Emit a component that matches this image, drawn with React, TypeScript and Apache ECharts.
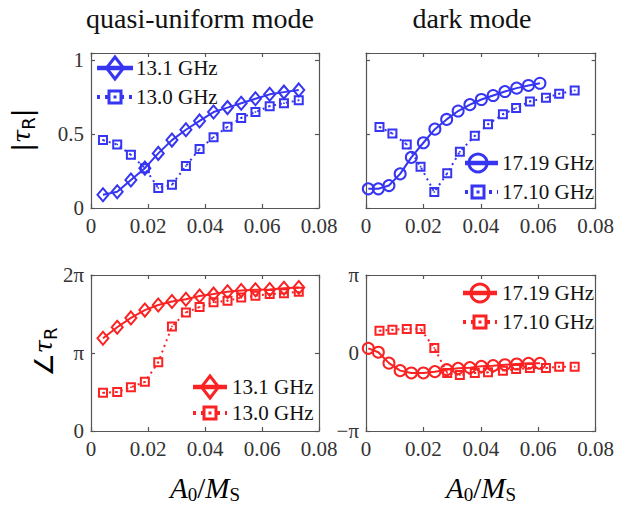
import React, { useEffect, useRef } from 'react';
import * as echarts from 'echarts';

// ---------- data ----------
const xTickLabels = ['0', '0.02', '0.04', '0.06', '0.08'];
const ampTickLabels = ['0', '0.5', '1'];
const phaseQuasiTickLabels = ['0', 'π', '2π'];
const phaseDarkTickLabels = ['−π', '0', 'π'];

// quasi-uniform mode (A0/MS)
const quasiX = [0.0042, 0.0092, 0.014, 0.0189, 0.0236, 0.0284, 0.0333, 0.0381, 0.043, 0.0479, 0.0527, 0.0577, 0.0627, 0.0677, 0.0729];
const amp131 = [0.09, 0.11, 0.19, 0.27, 0.37, 0.46, 0.53, 0.59, 0.65, 0.68, 0.71, 0.74, 0.77, 0.785, 0.8];
const amp130 = [0.46, 0.43, 0.36, 0.27, 0.135, 0.157, 0.285, 0.4, 0.48, 0.55, 0.61, 0.65, 0.69, 0.71, 0.73];
// phase in units of π
const phase131 = [1.19, 1.33, 1.45, 1.55, 1.615, 1.66, 1.69, 1.73, 1.755, 1.785, 1.8, 1.81, 1.815, 1.83, 1.84];
const phase130 = [0.49, 0.5, 0.56, 0.63, 0.88, 1.34, 1.52, 1.59, 1.65, 1.67, 1.71, 1.735, 1.755, 1.765, 1.785];

// dark mode
const darkX1719 = [0.0008, 0.0043, 0.008, 0.0119, 0.0158, 0.02, 0.024, 0.0281, 0.0321, 0.0362, 0.0402, 0.0443, 0.0484, 0.0525, 0.0566, 0.0606];
const amp1719 = [0.13, 0.13, 0.152, 0.231, 0.343, 0.442, 0.534, 0.6, 0.657, 0.7, 0.735, 0.762, 0.789, 0.812, 0.83, 0.845];
const phase1719 = [0.06, 0.01, -0.13, -0.226, -0.256, -0.256, -0.239, -0.214, -0.197, -0.188, -0.171, -0.162, -0.15, -0.141, -0.132, -0.132];
const darkX1710 = [0.0047, 0.0092, 0.0142, 0.019, 0.0238, 0.0283, 0.0327, 0.0379, 0.0425, 0.0477, 0.0523, 0.0571, 0.0627, 0.0673, 0.0727];
const amp1710 = [0.549, 0.504, 0.43, 0.28, 0.108, 0.235, 0.381, 0.489, 0.567, 0.635, 0.677, 0.722, 0.747, 0.774, 0.796];
const phase1710 = [0.286, 0.299, 0.308, 0.308, 0.064, -0.256, -0.282, -0.256, -0.248, -0.226, -0.205, -0.192, -0.192, -0.175, -0.175];

// ---------- styles ----------
const BLUE = '#3535f2';
const RED = '#fa2222';
const AXIS = '#555';
const SERIF = "'Liberation Serif', 'Times New Roman', serif";
const SQUARE_PATH = 'path://M0,0L10,0L10,10L0,10Z M2,2L2,8L8,8L8,2Z M4.2,4.2L5.8,4.2L5.8,5.8L4.2,5.8Z';

const grids = [
  { left: 91, top: 53, width: 228, height: 155 },
  { left: 366, top: 53, width: 231, height: 155 },
  { left: 91, top: 275, width: 228, height: 156 },
  { left: 366, top: 275, width: 230, height: 156 },
];

const yConf = [
  { min: 0, max: 1.05, interval: 0.5, labels: ampTickLabels, base: 0, show: true },
  { min: 0, max: 1.05, interval: 0.5, labels: ampTickLabels, base: 0, show: false },
  { min: 0, max: 2, interval: 1, labels: phaseQuasiTickLabels, base: 0, show: true },
  { min: -1, max: 1, interval: 1, labels: phaseDarkTickLabels, base: -1, show: true },
];

function pick(labels: string[], v: number, base: number, step: number) {
  const k = (v - base) / step;
  const r = Math.round(k);
  if (Math.abs(k - r) > 1e-6 || r < 0 || r >= labels.length) return '';
  return labels[r];
}

function buildOption() {
  const xAxis: any[] = [];
  const yAxis: any[] = [];
  const common = {
    type: 'value',
    splitLine: { show: false },
    axisLine: { show: true, onZero: false, lineStyle: { color: AXIS, width: 1.2 } },
    axisTick: { show: true, inside: true, length: 4, lineStyle: { color: AXIS, width: 1.2 } },
  };
  grids.forEach((_, g) => {
    const lbl = {
      show: true,
      margin: 7,
      fontFamily: SERIF,
      fontSize: 21,
      color: '#333',
      formatter: (v: number) => pick(xTickLabels, v, 0, 0.02),
    };
    xAxis.push({ ...common, gridIndex: g, min: 0, max: 0.08, interval: 0.02, position: 'bottom', axisLabel: lbl });
    xAxis.push({ ...common, gridIndex: g, min: 0, max: 0.08, interval: 0.02, position: 'top', axisLabel: { show: false } });
    const c = yConf[g];
    yAxis.push({
      ...common,
      gridIndex: g,
      min: c.min,
      max: c.max,
      interval: c.interval,
      position: 'left',
      axisLabel: {
        show: c.show,
        margin: 7,
        fontFamily: SERIF,
        fontSize: 21,
        color: '#333',
        formatter: (v: number) => pick(c.labels, v, c.base, c.interval),
      },
    });
    yAxis.push({ ...common, gridIndex: g, min: c.min, max: c.max, interval: c.interval, position: 'right', axisLabel: { show: false } });
  });

  const pairs = (xs: number[], ys: number[]) => xs.map((x, i) => [x, ys[i]]);
  const solid = (g: number, name: string, xs: number[], ys: number[], color: string, symbol: string, size: any) => ({
    type: 'line',
    name,
    xAxisIndex: 2 * g,
    yAxisIndex: 2 * g,
    data: pairs(xs, ys),
    symbol,
    symbolSize: size,
    showAllSymbol: true,
    itemStyle: { color: 'rgba(0,0,0,0)', borderColor: color, borderWidth: 2 },
    lineStyle: { color, width: 2, type: 'solid' },
    z: 3,
  });
  const dotted = (g: number, name: string, xs: number[], ys: number[], color: string) => ({
    type: 'line',
    name,
    xAxisIndex: 2 * g,
    yAxisIndex: 2 * g,
    data: pairs(xs, ys),
    symbol: SQUARE_PATH,
    symbolSize: 10,
    showAllSymbol: true,
    itemStyle: { color, borderWidth: 0 },
    lineStyle: { color, width: 2, type: [2, 4] },
    z: 2,
  });

  const series = [
    dotted(0, '13.0 GHz', quasiX, amp130, BLUE),
    solid(0, '13.1 GHz', quasiX, amp131, BLUE, 'diamond', [11, 13]),
    dotted(1, '17.10 GHz', darkX1710, amp1710, BLUE),
    solid(1, '17.19 GHz', darkX1719, amp1719, BLUE, 'circle', 11),
    dotted(2, '13.0 GHz', quasiX, phase130, RED),
    solid(2, '13.1 GHz', quasiX, phase131, RED, 'diamond', [11, 13]),
    dotted(3, '17.10 GHz', darkX1710, phase1710, RED),
    solid(3, '17.19 GHz', darkX1719, phase1719, RED, 'circle', 11),
  ];

  // ---------- legends (drawn) ----------
  const legend = (color: string, lx0: number, lx1: number, cx: number, tx: number, rows: any[]) => {
    const els: any[] = [];
    rows.forEach((r) => {
      els.push({
        type: 'line',
        shape: { x1: lx0, y1: r.y, x2: lx1, y2: r.y },
        style: r.solid ? { stroke: color, lineWidth: 4.5 } : { stroke: color, lineWidth: 4, lineDash: [3, 5] },
        z: 10,
      });
      if (r.kind === 'diamond') {
        els.push({ type: 'polygon', shape: { points: [[cx, r.y - 11], [cx + 8.5, r.y], [cx, r.y + 11], [cx - 8.5, r.y]] }, style: { fill: 'none', stroke: color, lineWidth: 3 }, z: 11 });
      } else if (r.kind === 'circle') {
        els.push({ type: 'circle', shape: { cx, cy: r.y, r: 9 }, style: { fill: 'none', stroke: color, lineWidth: 3 }, z: 11 });
      } else {
        els.push({ type: 'rect', shape: { x: cx - 6, y: r.y - 6, width: 12, height: 12 }, style: { fill: '#fff', stroke: color, lineWidth: 3 }, z: 11 });
        els.push({ type: 'rect', shape: { x: cx - 1.5, y: r.y - 1.5, width: 3, height: 3 }, style: { fill: color }, z: 12 });
      }
      els.push({
        type: 'text',
        x: tx,
        y: r.y,
        style: { text: r.label, fontFamily: SERIF, fontSize: 21, fill: '#111', align: 'left', verticalAlign: 'middle' },
        z: 11,
      });
    });
    return els;
  };

  const subRich = {
    i: { fontFamily: SERIF, fontStyle: 'italic', fontSize: 29, color: '#111' },
    n: { fontFamily: SERIF, fontSize: 29, color: '#111' },
    s: { fontFamily: SERIF, fontSize: 19, color: '#111', padding: [13, 0, 0, 0] },
  };
  const yRich = {
    b: { fontFamily: "'DejaVu Sans', sans-serif", fontSize: 26, color: '#222' },
    a: { fontFamily: "'DejaVu Sans', sans-serif", fontSize: 26, color: '#222' },
    t: { fontFamily: "'DejaVu Serif', serif", fontStyle: 'italic', fontSize: 24, color: '#222' },
    s: { fontFamily: "'DejaVu Sans', sans-serif", fontSize: 18, color: '#222', padding: [12, 0, 0, 0] },
  };

  const graphic: any[] = [
    { type: 'text', x: 200, y: 18, style: { text: 'quasi-uniform mode', fontFamily: SERIF, fontSize: 28, fill: '#111', align: 'center', verticalAlign: 'middle' } },
    { type: 'text', x: 472, y: 18, style: { text: 'dark mode', fontFamily: SERIF, fontSize: 28, fill: '#111', align: 'center', verticalAlign: 'middle' } },
    { type: 'text', x: 22, y: 130, rotation: Math.PI / 2, style: { text: '{b||}{t|τ}{s|R}{b||}', rich: yRich, align: 'center', verticalAlign: 'middle' } },
    { type: 'text', x: 44, y: 352, rotation: Math.PI / 2, style: { text: '{a|∠}{t|τ}{s|R}', rich: yRich, align: 'center', verticalAlign: 'middle' } },
    { type: 'text', x: 205, y: 488, style: { text: '{i|A}{s|0}{n|/}{i|M}{s|S}', rich: subRich, align: 'center', verticalAlign: 'middle' } },
    { type: 'text', x: 481, y: 488, style: { text: '{i|A}{s|0}{n|/}{i|M}{s|S}', rich: subRich, align: 'center', verticalAlign: 'middle' } },
    ...legend(BLUE, 97, 133, 115, 136, [
      { y: 68, kind: 'diamond', solid: true, label: '13.1 GHz' },
      { y: 97, kind: 'square', solid: false, label: '13.0 GHz' },
    ]),
    ...legend(BLUE, 465, 498, 478, 502, [
      { y: 163, kind: 'circle', solid: true, label: '17.19 GHz' },
      { y: 192, kind: 'square', solid: false, label: '17.10 GHz' },
    ]),
    ...legend(RED, 193, 227, 210, 232, [
      { y: 387, kind: 'diamond', solid: true, label: '13.1 GHz' },
      { y: 413, kind: 'square', solid: false, label: '13.0 GHz' },
    ]),
    ...legend(RED, 463, 497, 480, 502, [
      { y: 293, kind: 'circle', solid: true, label: '17.19 GHz' },
      { y: 322, kind: 'square', solid: false, label: '17.10 GHz' },
    ]),
  ];

  return {
    animation: false,
    backgroundColor: '#ffffff',
    grid: grids.map((g) => ({ ...g, containLabel: false })),
    xAxis,
    yAxis,
    series,
    graphic,
  };
}

export default function App() {
  const ref = useRef<HTMLDivElement>(null);
  useEffect(() => {
    if (!ref.current) return;
    const chart = echarts.init(ref.current, undefined, { renderer: 'svg' });
    chart.setOption(buildOption() as any);
    return () => chart.dispose();
  }, []);
  return <div ref={ref} style={{ position: 'fixed', left: 0, top: 0, width: 617, height: 509 }} />;
}
